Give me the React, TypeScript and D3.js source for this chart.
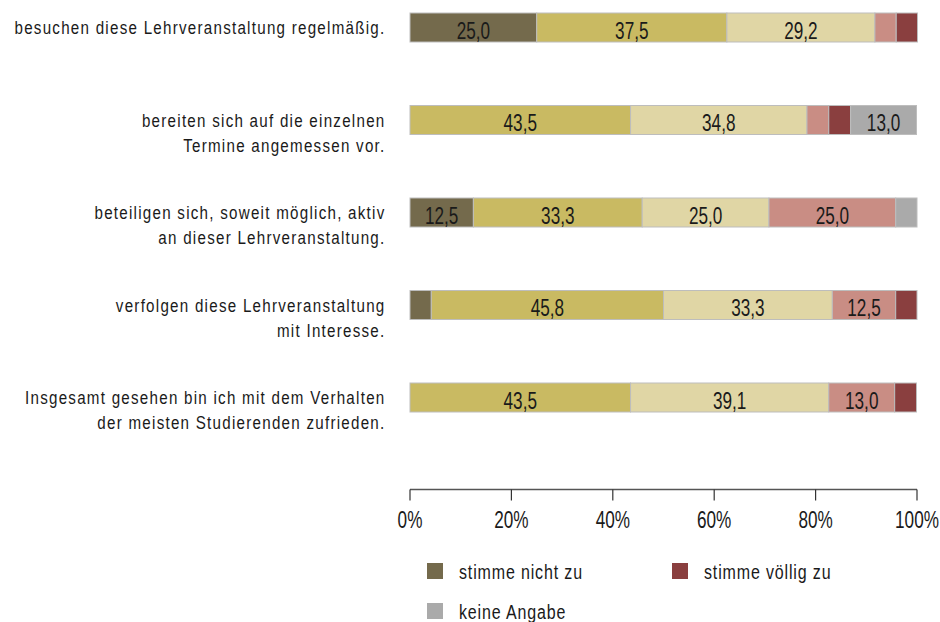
import React, { useEffect } from 'react';
import * as d3 from 'd3';

// statements (one entry per bar, split into display lines)
const questions = [
  ['besuchen diese Lehrveranstaltung regelmäßig.'],
  ['bereiten sich auf die einzelnen', 'Termine angemessen vor.'],
  ['beteiligen sich, soweit möglich, aktiv', 'an dieser Lehrveranstaltung.'],
  ['verfolgen diese Lehrveranstaltung', 'mit Interesse.'],
  ['Insgesamt gesehen bin ich mit dem Verhalten', 'der meisten Studierenden zufrieden.'],
];

const categories = ['stimme nicht zu', 'stufe2', 'stufe3', 'stufe4', 'stimme völlig zu', 'keine Angabe'];
const legendItems = ['stimme nicht zu', 'stimme völlig zu', 'keine Angabe'];

// percentages per category
const nichtZu = [25.0, 0, 12.5, 4.2, 0];
const stufe2 = [37.5, 43.5, 33.3, 45.8, 43.5];
const stufe3 = [29.2, 34.8, 25.0, 33.3, 39.1];
const stufe4 = [4.2, 4.3, 25.0, 12.5, 13.0];
const voelligZu = [4.2, 4.3, 0, 4.2, 4.3];
const keineAngabe = [0, 13.0, 4.2, 0, 0];

const xTicks = [0, 20, 40, 60, 80, 100];

const colors = ['#746A4C', '#C9BA62', '#E0D6A5', '#C98D84', '#8A3F3F', '#AAAAAA'];

const FONT = '"Liberation Sans", Arial, sans-serif';

// condensed look: squeeze glyphs horizontally, then add some tracking
const CondText = ({ x, y, size, sx, ls = 0, anchor = 'start', children }: any) => (
  <text
    transform={`translate(${x},${y}) scale(${sx},1)`}
    x={0}
    y={0}
    fontSize={size}
    letterSpacing={ls / sx}
    textAnchor={anchor}
    fill="#1a1a1a"
  >
    {children}
  </text>
);

const App = () => {
  useEffect(() => {
    document.body.style.margin = '0';
  }, []);

  const series = [nichtZu, stufe2, stufe3, stufe4, voelligZu, keineAngabe];
  const rows = questions.map((q, i) => {
    const r: any = { idx: i };
    categories.forEach((c, j) => (r[c] = series[j][i]));
    return r;
  });
  const stacked = d3.stack().keys(categories)(rows);

  const x = d3.scaleLinear().domain([0, 100]).range([410, 917]);
  const y = d3.scalePoint<number>().domain(d3.range(questions.length)).range([27.5, 397.5]);
  const barH = 29;
  const color = d3.scaleOrdinal<string, string>().domain(categories).range(colors);
  const fmt = (v: number) => d3.format('.1f')(v).replace('.', ',');

  const axisY = 489.5;

  const legendPos = [
    { x: 427, y: 563 },
    { x: 672, y: 563 },
    { x: 427, y: 603 },
  ];

  return (
    <svg width={940} height={622} style={{ display: 'block', fontFamily: FONT }}>
      {/* category labels */}
      {questions.map((lines, i) =>
        lines.map((t, k) => (
          <CondText
            key={`${i}-${k}`}
            x={385.5}
            y={(y(i) as number) + 6.5 + k * 25}
            size={18.5}
            sx={0.82}
            ls={1.25}
            anchor="end"
          >
            {t}
          </CondText>
        ))
      )}

      {/* stacked bars */}
      {stacked.map((s) => (
        <g key={s.key}>
          {s.map((d, i) =>
            d[1] - d[0] > 0 ? (
              <rect
                key={i}
                x={x(d[0])}
                y={(y(i) as number) - barH / 2}
                width={x(d[1]) - x(d[0])}
                height={barH}
                fill={color(s.key)}
                stroke="#BDBDBD"
                strokeWidth={1}
              />
            ) : null
          )}
        </g>
      ))}

      {/* value labels */}
      {stacked.map((s) =>
        s.map((d, i) =>
          d[1] - d[0] >= 10 ? (
            <CondText
              key={`${s.key}-${i}`}
              x={x((d[0] + d[1]) / 2)}
              y={(y(i) as number) + 11}
              size={23.5}
              sx={0.73}
              anchor="middle"
            >
              {fmt(d[1] - d[0])}
            </CondText>
          ) : null
        )
      )}

      {/* x axis */}
      <g>
        <line x1={x(0)} x2={x(100)} y1={axisY} y2={axisY} stroke="#555" strokeWidth={1.5} />
        {xTicks.map((t) => (
          <g key={t}>
            <line x1={x(t)} x2={x(t)} y1={axisY} y2={axisY + 11} stroke="#333" strokeWidth={1.2} />
            <CondText x={x(t)} y={528} size={23.5} sx={0.73} anchor="middle">
              {t}%
            </CondText>
          </g>
        ))}
      </g>

      {/* legend */}
      {legendItems.map((name, i) => (
        <g key={name}>
          <rect x={legendPos[i].x} y={legendPos[i].y} width={16} height={16} fill={color(name)} />
          <CondText x={legendPos[i].x + 32} y={legendPos[i].y + 16} size={20} sx={0.8} ls={0.85}>
            {name}
          </CondText>
        </g>
      ))}
    </svg>
  );
};

export default App;
